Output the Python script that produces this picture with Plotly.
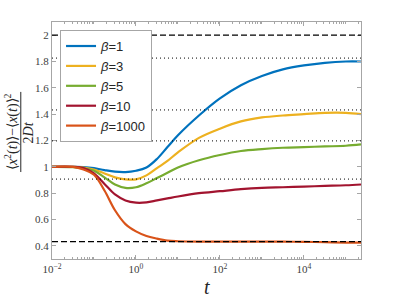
import plotly.graph_objects as go

log_t = [-2, -1.5, -1.25, -1, -0.75, -0.5, -0.25, 0, 0.25, 0.5, 0.75, 1, 1.5, 2, 2.5, 3, 3.5, 4, 4.5, 5, 5.36]
t = [10 ** v for v in log_t]

beta1 = [1, 1, 0.998, 0.99, 0.975, 0.963, 0.96, 0.97, 0.995, 1.06, 1.15, 1.24, 1.39, 1.52, 1.62, 1.69, 1.74, 1.77, 1.79, 1.80, 1.80]
beta3 = [1, 1, 0.995, 0.98, 0.95, 0.92, 0.905, 0.905, 0.935, 0.99, 1.045, 1.11, 1.22, 1.29, 1.345, 1.375, 1.39, 1.40, 1.41, 1.41, 1.40]
beta5 = [1, 0.998, 0.99, 0.97, 0.92, 0.865, 0.84, 0.845, 0.875, 0.915, 0.955, 0.995, 1.05, 1.09, 1.12, 1.135, 1.145, 1.15, 1.155, 1.16, 1.17]
beta10 = [1, 1, 0.99, 0.95, 0.87, 0.79, 0.745, 0.728, 0.73, 0.745, 0.76, 0.775, 0.80, 0.815, 0.83, 0.84, 0.845, 0.85, 0.855, 0.86, 0.866]
beta1000 = [1, 1, 0.98, 0.94, 0.82, 0.67, 0.565, 0.51, 0.475, 0.455, 0.44, 0.435, 0.432, 0.432, 0.432, 0.432, 0.432, 0.43, 0.428, 0.425, 0.425]

series_names = ["1", "3", "5", "10", "1000"]
series_vals = [beta1, beta3, beta5, beta10, beta1000]
colors = ["#0072BD", "#EDB120", "#77AC30", "#A2142F", "#D95319"]

dashed_levels = [2.0, 0.432]
dotted_levels = [1.826, 1.432, 1.197, 0.907]

x_major = [1e-2, 1, 100, 1e4]
x_major_text = ["10<sup>−2</sup>", "10<sup>0</sup>", "10<sup>2</sup>", "10<sup>4</sup>"]
x_minor = [m * d for d in [1e-2, 1e-1, 1, 10, 100, 1e3, 1e4, 1e5] for m in range(1, 10) if not (m == 1 and d in x_major)]

fig = go.Figure()
for name, vals, col in zip(series_names, series_vals, colors):
    fig.add_trace(go.Scatter(x=t, y=vals, mode="lines", name="<i>β</i>=" + name,
                             line=dict(color=col, width=2.2, shape="spline", smoothing=1.0)))

for lv in dashed_levels:
    fig.add_shape(type="line", xref="paper", x0=0, x1=1, yref="y", y0=lv, y1=lv,
                  line=dict(color="black", width=1.2, dash="6px,3px"), layer="above")
for lv in dotted_levels:
    fig.add_shape(type="line", xref="paper", x0=0, x1=1, yref="y", y0=lv, y1=lv,
                  line=dict(color="black", width=1, dash="1px,3px"), layer="above")

axcol = "#a6a6a6"
tickfont = dict(family="Liberation Serif", size=11, color="#404040")

fig.update_xaxes(type="log", range=[-2, 5.36], tickmode="array", tickvals=x_major, ticktext=x_major_text,
                 ticks="inside", ticklen=4, tickcolor=axcol, showline=True, linecolor=axcol, linewidth=1,
                 mirror="ticks", showgrid=False, zeroline=False, tickfont=tickfont, automargin=False,
                 minor=dict(tickmode="array", tickvals=x_minor, ticks="inside", ticklen=2, tickcolor=axcol, showgrid=False))
fig.update_yaxes(range=[0.3, 2.1], dtick=0.2, tick0=0, ticks="inside", ticklen=4, tickcolor=axcol,
                 showline=True, linecolor=axcol, linewidth=1, mirror="ticks", showgrid=False, zeroline=False,
                 tickfont=tickfont, automargin=False)

lab_font = dict(family="Liberation Serif", size=14, color="#262626")
fig.add_annotation(xref="paper", yref="paper", x=-0.129, y=0.536, textangle=-90, showarrow=False,
                   xanchor="center", yanchor="middle",
                   text="⟨<i>x</i><sup>2</sup>(<i>t</i>)⟩−⟨<i>x</i>(<i>t</i>)⟩<sup>2</sup>", font=lab_font)
fig.add_annotation(xref="paper", yref="paper", x=-0.073, y=0.536, textangle=-90, showarrow=False,
                   xanchor="center", yanchor="middle",
                   text="2<i>Dt</i>", font=lab_font)
fig.add_shape(type="line", xref="paper", yref="paper", x0=-0.101, x1=-0.101, y0=0.367, y1=0.705,
              line=dict(color="#262626", width=1))
fig.add_annotation(xref="paper", yref="paper", x=0.5016, y=-0.118, showarrow=False,
                   xanchor="center", yanchor="middle", text="<i>t</i>",
                   font=dict(family="Liberation Serif", size=20, color="#262626"))

fig.update_layout(
    width=399, height=299,
    margin=dict(l=52, r=38, t=22, b=40),
    paper_bgcolor="white", plot_bgcolor="white",
    showlegend=True,
    legend=dict(x=0.026, y=0.966, xanchor="left", yanchor="top", bgcolor="white",
                bordercolor=axcol, borderwidth=1, font=dict(family="Liberation Sans", size=13, color="#262626"),
                tracegroupgap=0, itemwidth=30),
)

fig.write_html("out.html", config={"displayModeBar": False},
               post_script="document.body.style.margin='0';document.body.style.overflow='hidden';")
